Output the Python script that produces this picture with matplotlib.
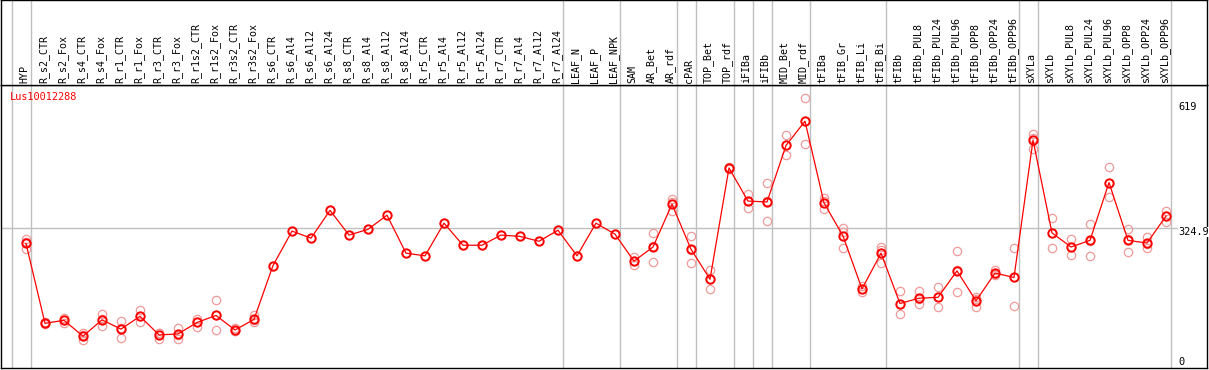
"""Expression profile of Lus10012288 across tissues/treatments."""
import matplotlib
matplotlib.use("Agg")
import matplotlib.pyplot as plt
import matplotlib.transforms as mtransforms

W, H = 1209, 370
LINE_RED = "#ff0000"
REP_RED = "#f09a9a"
SEP_GRAY = "#c0c0c0"
MONO = "DejaVu Sans Mono"

SAMPLES = [
    "HYP", "R_s2_CTR", "R_s2_Fox", "R_s4_CTR", "R_s4_Fox", "R_r1_CTR", "R_r1_Fox",
    "R_r3_CTR", "R_r3_Fox", "R_r1s2_CTR", "R_r1s2_Fox", "R_r3s2_CTR", "R_r3s2_Fox",
    "R_s6_CTR", "R_s6_Al4", "R_s6_Al12", "R_s6_Al24", "R_s8_CTR", "R_s8_Al4",
    "R_s8_Al12", "R_s8_Al24", "R_r5_CTR", "R_r5_Al4", "R_r5_Al12", "R_r5_Al24",
    "R_r7_CTR", "R_r7_Al4", "R_r7_Al12", "R_r7_Al24", "LEAF_N", "LEAF_P", "LEAF_NPK",
    "SAM", "AR_Bet", "AR_rdf", "cPAR", "TOP_Bet", "TOP_rdf", "iFIBa", "iFIBb",
    "MID_Bet", "MID_rdf", "tFIBa", "tFIB_Gr", "tFIB_Li", "tFIB_Bi", "tFIBb",
    "tFIBb_PUL8", "tFIBb_PUL24", "tFIBb_PUL96", "tFIBb_OPP8", "tFIBb_OPP24",
    "tFIBb_OPP96", "sXYLa", "sXYLb", "sXYLb_PUL8", "sXYLb_PUL24", "sXYLb_PUL96",
    "sXYLb_OPP8", "sXYLb_OPP24", "sXYLb_OPP96",
]

MEANS = [290, 109, 116, 80, 117, 96, 125, 83, 85, 111, 127, 94, 118,
         240, 318, 302, 365, 309, 322, 354, 268, 262, 336, 286, 286, 309, 306, 295, 320,
         262, 336, 311, 250, 282, 379, 277, 209, 461, 386, 384, 512, 567,
         382, 307, 187, 268, 154, 166, 168, 228, 160, 223, 213,
         524, 314, 282, 297, 428, 297, 291, 352]

REPLICATES = [
    [301, 294, 277], [111, 109, 107], [121, 117, 110], [87, 82, 71], [130, 118, 102],
    [114, 99, 75], [139, 125, 111], [88, 87, 73], [98, 83, 74], [119, 113, 101],
    [162, 127, 93], [99, 91, 92], [127, 116, 111],
    [240], [318], [302], [365], [309], [322], [354], [268], [262], [336], [286],
    [286], [309], [306], [295], [320], [262], [336], [311],
    [260, 250, 241], [313, 284, 249], [391, 383, 364], [308, 276, 246],
    [230, 210, 186], [463, 461, 459], [401, 386, 371], [426, 386, 340],
    [535, 512, 490], [619, 567, 515], [392, 387, 367], [326, 316, 279],
    [194, 187, 180], [283, 276, 246], [182, 152, 130], [182, 164, 152],
    [191, 168, 145], [272, 231, 179], [169, 164, 147], [230, 221, 219],
    [279, 213, 148], [538, 529, 504], [348, 314, 279], [300, 283, 263],
    [334, 296, 262], [463, 428, 395], [322, 299, 270], [305, 289, 279],
    [364, 353, 339],
]

# group boundaries: separator drawn right after these sample indices
GROUP_ENDS = [-1, 0, 28, 31, 34, 35, 37, 38, 39, 41, 45, 52, 53, 60]

GENE = "Lus10012288"
Y_MAX, Y_MID = 619, 324.9


def main():
    fig = plt.figure(figsize=(W / 100, H / 100), dpi=100)

    def px_box(x0, y0, x1, y1):
        return [x0 / W, 1 - y1 / H, (x1 - x0) / W, (y1 - y0) / H]

    xlim = ((1 - 26) / 19, (1207 - 26) / 19)
    ax = fig.add_axes(px_box(1, 85, 1207, 368))
    lab = fig.add_axes(px_box(1, 0, 1207, 85))

    for a in (ax, lab):
        a.set_xlim(*xlim)
        a.set_xticks([])
        a.set_yticks([])
        for s in a.spines.values():
            s.set_color("black")
            s.set_linewidth(1.0)
        for g in GROUP_ENDS:
            a.axvline(g + 0.25, color=SEP_GRAY, lw=1.0, zorder=0)

    ax.set_ylim((371.5 - 368) / 0.4415, (371.5 - 85) / 0.4415)
    lab.set_ylim(0, 1)

    ax.axhline(Y_MID, color=SEP_GRAY, lw=1.0, zorder=0)

    # replicates
    for i, reps in enumerate(REPLICATES):
        ax.plot([i] * len(reps), reps, "o", ms=6, mfc="none", mec=REP_RED,
                mew=0.9, zorder=2)

    x = list(range(len(MEANS)))
    ax.plot(x, MEANS, "-", color=LINE_RED, lw=0.9, zorder=3)
    ax.plot(x, MEANS, "o", ms=6, mfc="none", mec=LINE_RED, mew=1.4, zorder=4)

    # sample labels, rotated
    trans = mtransforms.blended_transform_factory(lab.transData, lab.transAxes)
    for i, name in enumerate(SAMPLES):
        lab.text(i - 0.08, 2 / 85, name, rotation=90, ha="center", va="bottom",
                 fontsize=7.2, family=MONO, transform=trans)

    # gene name and value labels
    fig.text(10 / W, 1 - 97 / H, GENE, color=LINE_RED, fontsize=7.4,
             family=MONO, va="center", ha="left")
    for txt, ypx in [(f"{Y_MAX}", 106.7), (f"{Y_MID}", 232.0), ("0", 361.7)]:
        fig.text(1178 / W, 1 - ypx / H, txt, fontsize=7.4, family=MONO,
                 va="center", ha="left",
                 bbox=dict(facecolor="white", edgecolor="none", pad=0.3))

    fig.savefig("out.png", dpi=100)


if __name__ == "__main__":
    main()
